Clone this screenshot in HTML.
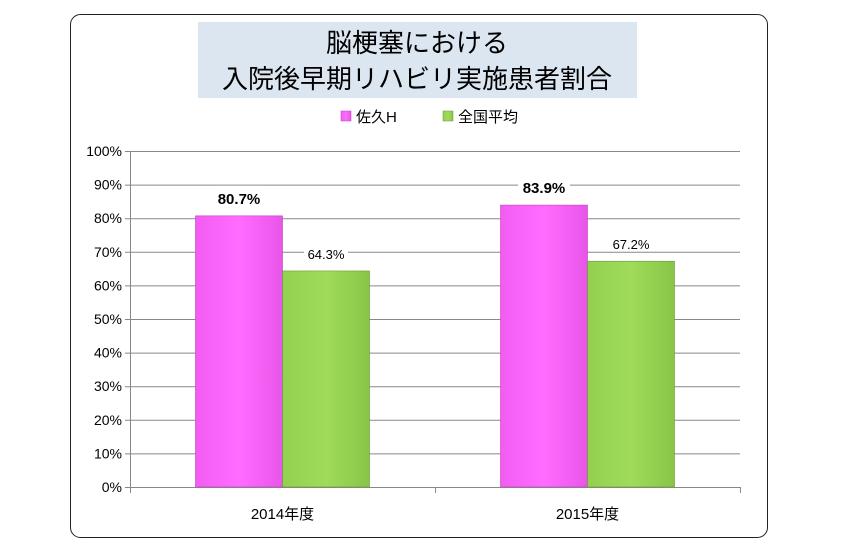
<!DOCTYPE html>
<html><head><meta charset="utf-8"><style>
body{margin:0;background:#fff;width:844px;height:547px;overflow:hidden;font-family:"Liberation Sans","Noto Sans CJK JP",sans-serif}
</style></head><body>
<svg width="844" height="547" font-family="Liberation Sans, Noto Sans CJK JP, sans-serif">
<defs>
<linearGradient id="gp" x1="0" x2="1"><stop offset="0" stop-color="#f25cf2"/><stop offset="0.5" stop-color="#ff6cff"/><stop offset="1" stop-color="#e855e8"/></linearGradient>
<linearGradient id="gg" x1="0" x2="1"><stop offset="0" stop-color="#92d050"/><stop offset="0.5" stop-color="#a0dc5a"/><stop offset="1" stop-color="#88c448"/></linearGradient>
</defs>
<rect x="70.5" y="14.5" width="697" height="523" rx="10" fill="#fff" stroke="#222" stroke-width="1"/>
<rect x="198" y="22" width="439" height="76" fill="#dce6f1"/>
<text x="417" y="52" text-anchor="middle" font-size="26" fill="#000">脳梗塞における</text>
<text x="417" y="88" text-anchor="middle" font-size="26" fill="#000">入院後早期リハビリ実施患者割合</text>
<g>
<rect x="341" y="111" width="10" height="10" fill="url(#gp)" stroke="#c040c0" stroke-width="0.5"/>
<text x="356" y="122" font-size="15">佐久H</text>
<rect x="443" y="111" width="10" height="10" fill="url(#gg)" stroke="#6a9a30" stroke-width="0.5"/>
<text x="458" y="122" font-size="15">全国平均</text>
</g>
<g id="grid"></g><g id="bars"></g>
</svg>
<script>
const categories=["2014年度","2015年度"];
const sakuValues=[80.7,83.9];
const nationalValues=[64.3,67.2];
const yTicks=[0,10,20,30,40,50,60,70,80,90,100];
const NS="http://www.w3.org/2000/svg";
const X0=130,X1=740,Y0=487,Y1=151;
const y=v=>Y0-(v/100)*(Y0-Y1);
const bandW=(X1-X0)/categories.length;
const xc=i=>X0+bandW*(i+0.5);
function mk(tag,attrs,parent){const e=document.createElementNS(NS,tag);for(const k in attrs)e.setAttribute(k,attrs[k]);parent.appendChild(e);return e;}
const grid=document.getElementById('grid'),bars=document.getElementById('bars');
yTicks.forEach(t=>{
 const l=mk('line',{x1:X0-5,x2:X1,y1:y(t)+0.5,y2:y(t)+0.5,stroke:t===0?'#888':'#888','stroke-width':1},grid);
 
 
 const tx=mk('text',{x:X0-8,y:y(t)+5,'text-anchor':'end','font-size':14},grid);
 tx.textContent=t+'%';
 
 
});
const ax=mk('line',{x1:X0+0.5,x2:X0+0.5,y1:Y1,y2:Y0,stroke:'#888'},grid);


[0,1,2].forEach(i=>{const t=mk('line',{x1:X0+bandW*i+0.5,x2:X0+bandW*i+0.5,y1:Y0,y2:Y0+6,stroke:'#888'},grid);
 
 });
const BW=87;
categories.forEach((c,i)=>{
 const cx=xc(i);
 [[sakuValues[i],'url(#gp)','#c040c0',cx-BW,true,'bar-saku-'+i],[nationalValues[i],'url(#gg)','#6a9a30',cx,false,'bar-national-'+i]].forEach(([v,f,s,x,bold,name])=>{
  const r=mk('rect',{x:x,y:y(v),width:BW,height:Y0-y(v),fill:f,stroke:s,'stroke-width':0.6},bars);
  
  
  const tw=bold?52:44;
  const bg=mk('rect',{x:x+BW/2-tw/2,y:y(v)-30,width:tw,height:20,fill:'#fff'},bars);
  
  
  const t=mk('text',{x:x+BW/2,y:y(v)-12,'text-anchor':'middle','font-size':bold?15:13,'font-weight':bold?'bold':'normal'},bars);
  t.textContent=v.toFixed(1)+'%';
  
  
 });
 const xl=mk('text',{x:cx,y:Y0+32,'text-anchor':'middle','font-size':15},bars);
 xl.textContent=c;
 
 
});
</script>
</body></html>
